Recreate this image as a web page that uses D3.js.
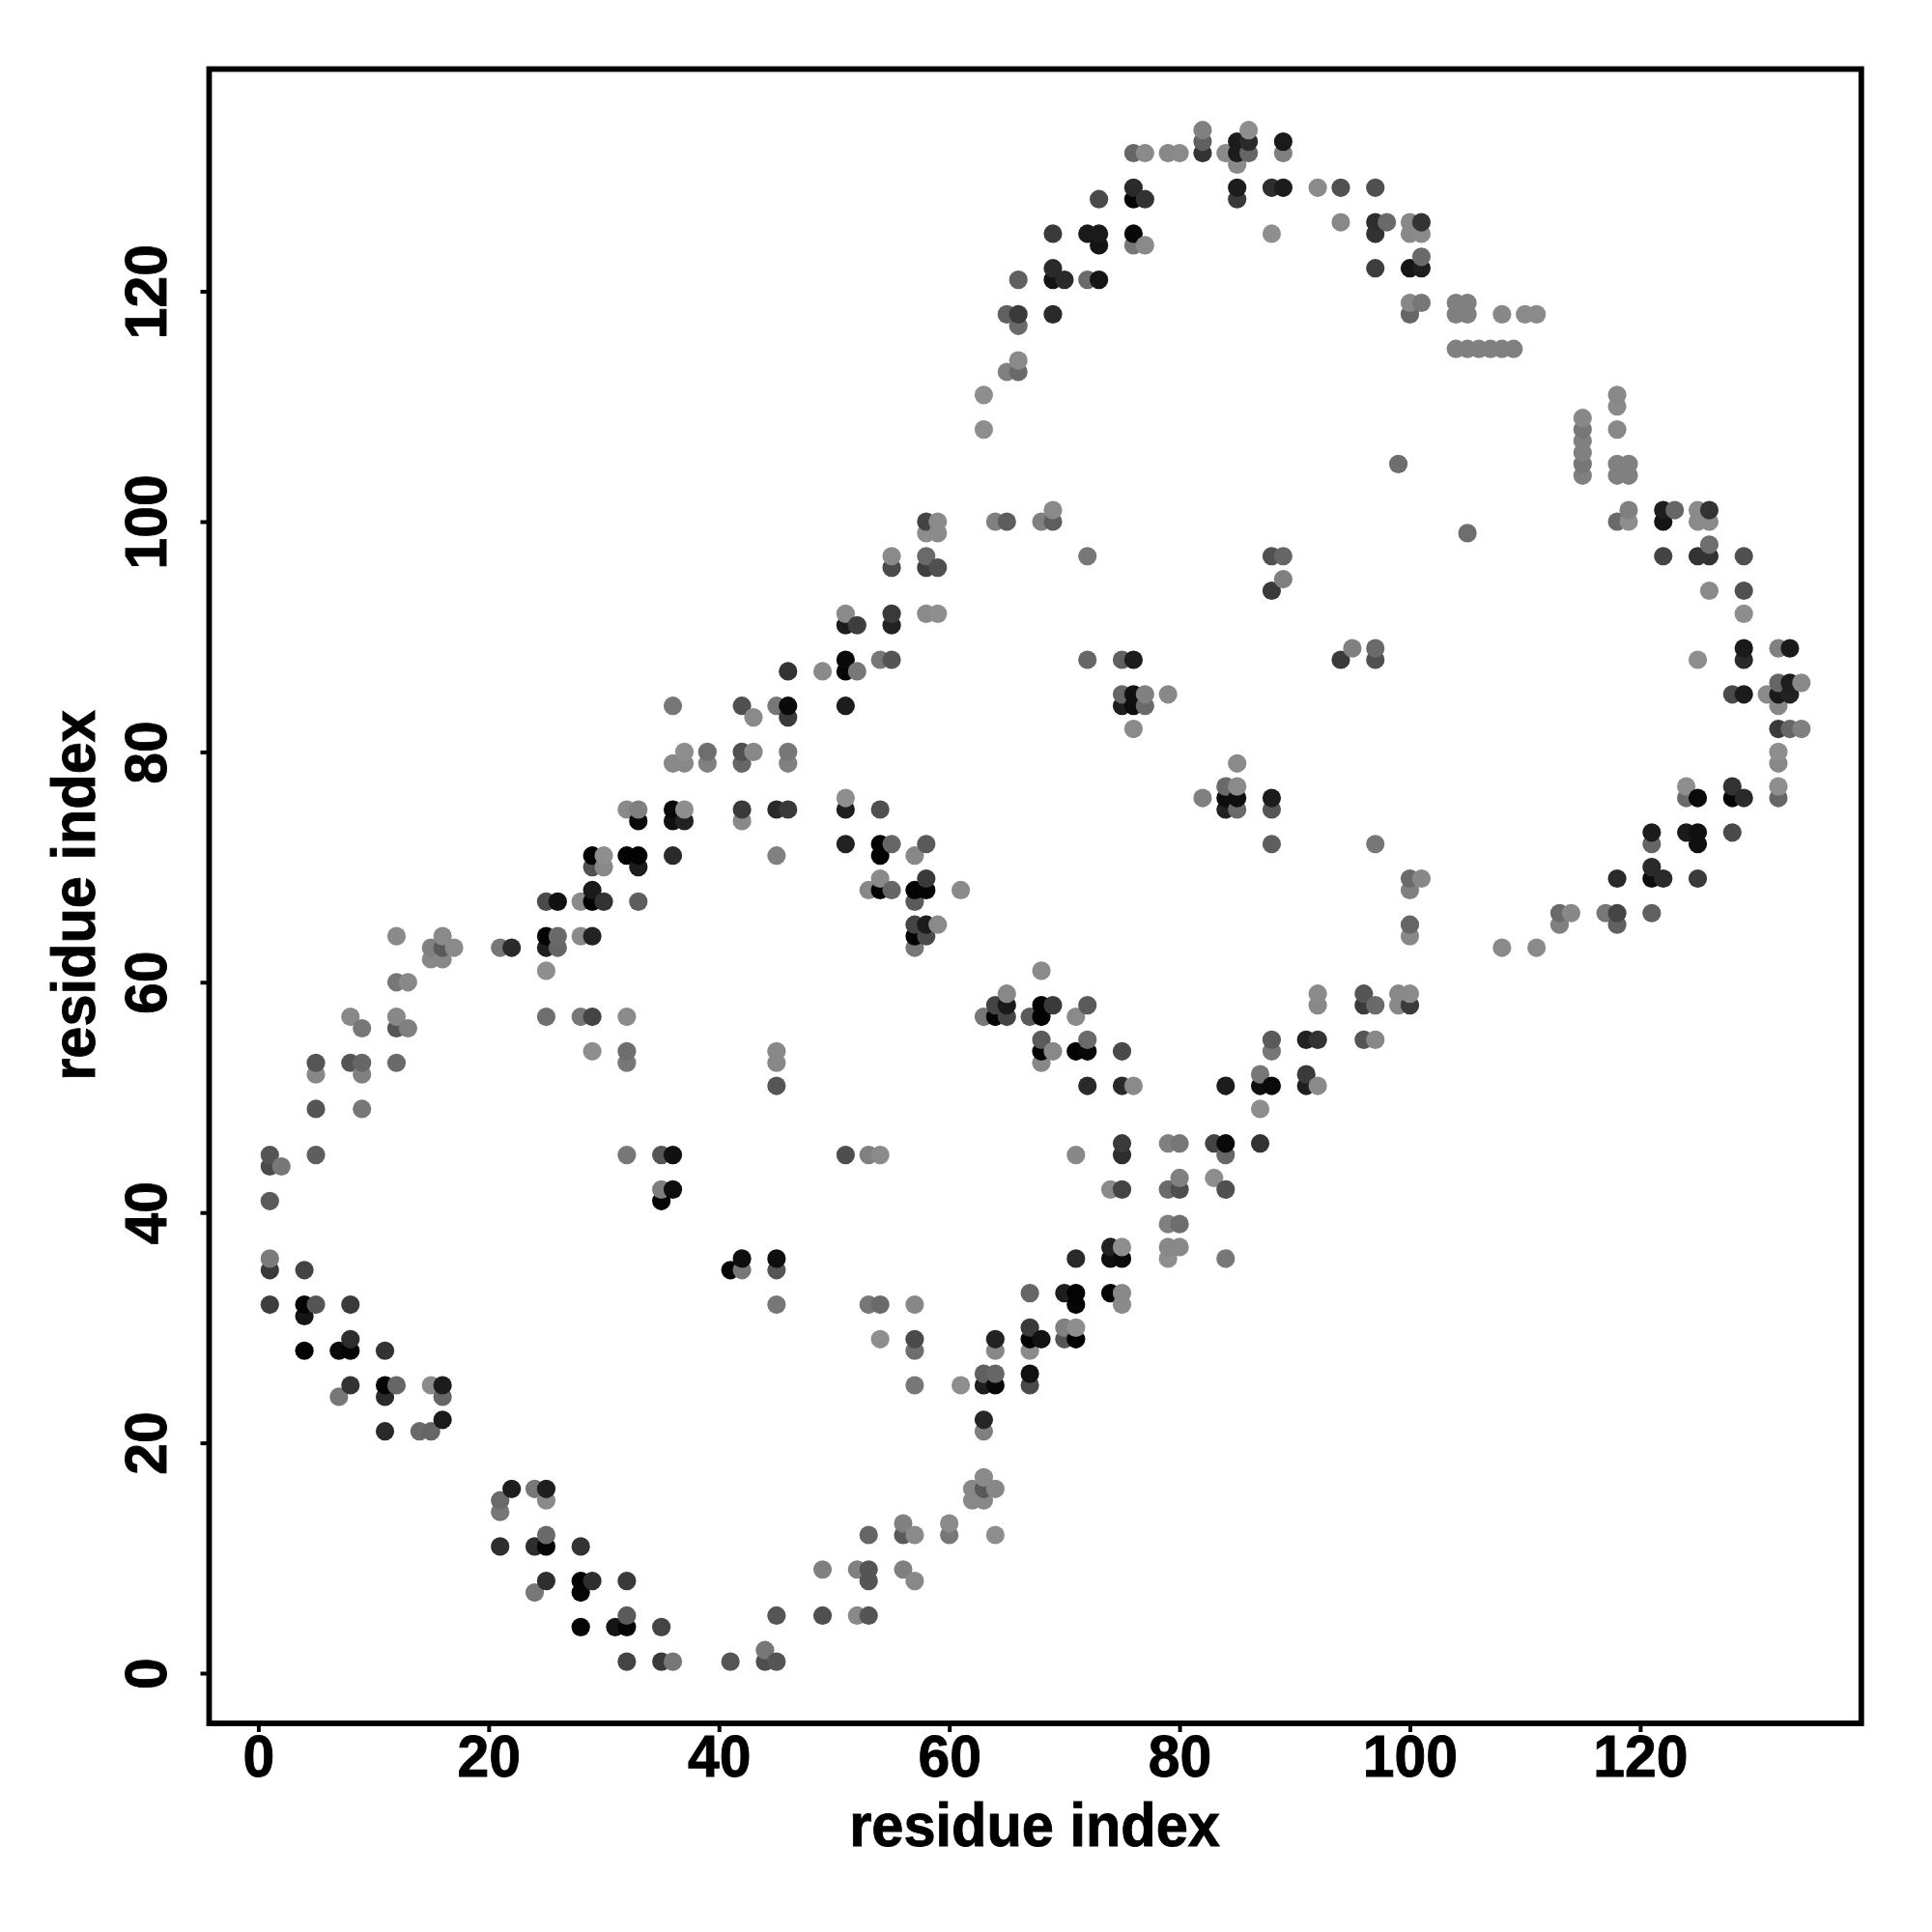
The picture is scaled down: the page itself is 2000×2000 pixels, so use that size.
<!DOCTYPE html>
<html><head><meta charset="utf-8"><title>Residue contact map</title>
<script src="https://d3js.org/d3.v7.min.js"></script>
<style>html,body{margin:0;padding:0;background:#fff}svg{display:block}text{font-family:"Liberation Sans",Arial,sans-serif;font-weight:700;fill:#000;stroke:#000;stroke-width:0.9px}</style>
</head><body><div id="chart"></div>
<script>
const xTicks = [0,20,40,60,80,100,120];
const yTicks = [0,20,40,60,80,100,120];
const xTitle = "residue index";
const yTitle = "residue index";
// one entry per row of the map: residue y, residue x values, grey level of each point
const rowY = [134,133,132,131,129,128,126,125,124,123,122,121,119,118,117,115,114,113,111,110,109,108,107,106,105,104,101,100,99,98,97,96,95,94,92,91,89,88,87,86,85,84,83,82,80,79,77,76,75,74,73,72,71,70,69,68,67,66,65,64,63,62,61,60,59,58,57,56,55,54,53,52,51,49,46,45,44,43,42,41,39,37,36,35,33,32,31,30,29,28,26,25,24,22,21,17,16,15,14,13,12,11,9,8,7,5,4,2,1];
const rowX = [
[82,86],[82,85,86,89],[76,77,79,80,82,84,85,86,89],[85],[76,85,88,89,92,94,97],[73,76,77,85],[94,97,98,100,101],[69,72,73,76,88,97,100,101],[73,76,77],[101],[69,97,100,101],[66,69,70,72,73],[100,101,104,105],[65,66,69,100,104,105,108,110,111],[66],[104,105,106,107,108,109],[66],[65,66],[63,118],[118],[115],[63,115,118],[115],[115],[99,115,118,119],[115,118,119],
[69,119,122,123,125,126],[58,59,64,65,68,69,118,119,122,125,126],[58,59,105],[126],[55,58,72,88,89,122,125,126,129],[55,58,59],[89],[88,126,129],[51,55,58,59,129],[51,52,55],[95,97,129,132,133],[51,54,55,72,75,76,94,97,125,129],[46,49,51,52],[132,133,134],[75,76,77,79,128,129,131,132,133],[36,42,45,46,51,75,76,77,132],[43,46],[76,132,133,134],[37,39,42,43,46,132],[36,37,39,42,46,85,132],[84,85,124,128,132],[51,82,84,85,88,124,125,128,129,132],[32,33,36,37,42,45,46,51,54,84,85,88],[33,36,37,42],[121,124,125,128],[51,54,55,58,88,97,121,125],[29,30,32,33,36,45,54,57],[29,30,33,121],[54,58,100,101,118,121,122,125],[29,53,54,55,57,58,61,100],[25,26,28,29,30,33,57],[113,114,117,118,121],[57,58,59,100,113,118],[12,16,25,26,28,29,57,58,100],[15,16,17,21,22,25,26,57,108,111],[15,16],[25,68],[12,13],
[65,92,96,99,100],[64,65,68,69,72,92,96,97,99,100],[8,12,25,28,29,32,63,64,65,67,68,71],[9,12,13],[68,72,88,91,92,96,97],[29,32,45,68,69,71,72,75,88],[5,8,9,12,32,45,68],[5,9,87,91],[45,72,75,76,84,87,88,91,92],[5,9,87],[75,79,80,83,84,87],[1,5,32,35,36,51,53,54,71,75,84],[1,2],[80,83],[35,36,74,75,79,80,84],[1,35],[79,80],[74,75,79,80],[1,42,45,71,74,75,79,84],[1,4,41,42,45],[67,70,71,74,75],[1,4,5,8,45,53,54,57,71,75],[4],[67,70,71],[8,54,57,64,67,68,70,71],[4,7,8,11,57,64,67],[63,64,67],[8,11,12,15,16,57,61,63,64,67],[7,11,16],[16,63],[11,14,15,63],[63],[22,24,25,62,63,64],[21,25,62,63],[21],[56,60],[25,53,56,57,60,64],[21,24,25,28],[49,52,53,56],[25,28,29,32,53,57],[24,28],[32,45,49,52,53],[28,31,32,35],[44],[32,35,36,41,44,45]
];
const rowGrey = [
[0x80,0x8e],[0x60,0x1c,0x2a,0x1a],[0x66,0x8a,0x88,0x8a,0x33,0x8a,0x1c,0x66,0x80],[0x8a],[0x2a,0x1c,0x2e,0x1c,0x8a,0x50,0x50],[0x4a,0x05,0x33,0x3a],[0x88,0x2e,0x6a,0x88,0x33],[0x3a,0x1a,0x1a,0x08,0x8e,0x33,0x88,0x8a],[0x15,0x77,0x8a],[0x6a],[0x2a,0x3e,0x15,0x1e],[0x60,0x15,0x2a,0x6a,0x15],[0x88,0x77,0x80,0x80],[0x60,0x3a,0x2a,0x66,0x80,0x80,0x88,0x8a,0x8a],[0x6a],[0x80,0x80,0x80,0x80,0x80,0x80],[0x8a],[0x80,0x6a],[0x8e,0x88],[0x8a],[0x88],[0x8e,0x77,0x88],[0x80],[0x80],[0x6e,0x77,0x80,0x80],[0x80,0x80,0x80],
[0x8a,0x80,0x1e,0x66,0x8a,0x33],[0x44,0x8a,0x80,0x5e,0x80,0x5e,0x6a,0x8e,0x15,0x8a,0x8a],[0x8e,0x8a,0x6e],[0x6e],[0x8a,0x6a,0x77,0x50,0x66,0x44,0x33,0x33,0x50],[0x4a,0x3e,0x50],[0x80],[0x3a,0x8a,0x50],[0x8a,0x3a,0x8a,0x8e,0x8e],[0x1c,0x3e,0x22],[0x80,0x6a,0x1a,0x80,0x1a],[0x0a,0x77,0x55,0x66,0x60,0x1c,0x3a,0x50,0x8e,0x2a],[0x33,0x8a,0x05,0x77],[0x66,0x1e,0x88],[0x66,0x11,0x80,0x88,0x4a,0x1c,0x8a,0x1a,0x22],[0x77,0x50,0x77,0x0a,0x1c,0x1e,0x0e,0x6a,0x88],[0x8a,0x3a],[0x8a,0x3a,0x66,0x80],[0x8e,0x6e,0x50,0x88,0x77,0x8e],[0x88,0x88,0x80,0x66,0x80,0x8a,0x88],[0x6a,0x8a,0x8e,0x33,0x8e],[0x8e,0x80,0x0e,0x0e,0x1c,0x6a,0x0a,0x05,0x2a,0x66],[0x8a,0x80,0x0a,0x8e,0x3a,0x2a,0x3a,0x1e,0x50,0x22,0x6a,0x55],[0x0a,0x11,0x22,0x88],[0x1c,0x1a,0x11,0x4a],[0x22,0x03,0x66,0x5a,0x5e,0x77,0x66,0x11],[0x03,0x8e,0x03,0x03,0x2a,0x80,0x03,0x88],[0x50,0x88,0x1c,0x2a],[0x8a,0x3a,0x6a,0x88,0x2a,0x0e,0x2a,0x3a],[0x1a,0x88,0x03,0x66,0x03,0x05,0x8a,0x80],[0x4a,0x11,0x8a,0x03,0x33,0x5e,0x5a],[0x6a,0x88,0x77,0x44,0x60],[0x44,0x1c,0x8a,0x66,0x80,0x60],[0x8a,0x8a,0x05,0x6a,0x8a,0x22,0x03,0x4a,0x88],[0x80,0x5a,0x8a,0x77,0x2a,0x1e,0x66,0x77,0x8a,0x8a],[0x88,0x88],[0x8e,0x8a],[0x77,0x88],
[0x88,0x8a,0x55,0x88,0x8a],[0x44,0x1a,0x03,0x3a,0x5a,0x88,0x3a,0x6a,0x88,0x3a],[0x88,0x88,0x6e,0x77,0x44,0x8a,0x77,0x05,0x44,0x5a,0x03,0x8a],[0x77,0x55,0x80],[0x5a,0x6a,0x5a,0x22,0x33,0x55,0x88],[0x8e,0x6e,0x88,0x03,0x88,0x03,0x08,0x4a,0x77],[0x55,0x55,0x66,0x6a,0x77,0x88,0x88],[0x88,0x80,0x77,0x3a],[0x55,0x2a,0x2a,0x8a,0x1c,0x0e,0x0a,0x1e,0x8a],[0x55,0x77,0x8e],[0x3a,0x80,0x77,0x44,0x0a,0x33],[0x55,0x5e,0x77,0x55,0x11,0x4e,0x80,0x8a,0x88,0x2e,0x66],[0x4a,0x77],[0x80,0x8e],[0x7e,0x0e,0x8a,0x44,0x6a,0x4e,0x50],[0x5a,0x05],[0x80,0x6e],[0x22,0x8e,0x88,0x88],[0x7a,0x0e,0x0e,0x2a,0x0e,0x0a,0x8e,0x77],[0x3a,0x44,0x05,0x77,0x55],[0x66,0x1e,0x03,0x05,0x88],[0x3e,0x05,0x55,0x3a,0x77,0x77,0x6a,0x88,0x05,0x8a],[0x15],[0x3a,0x80,0x8e],[0x2e,0x8e,0x4a,0x22,0x03,0x11,0x55,0x03],[0x03,0x0a,0x05,0x33,0x6e,0x88,0x8a],[0x60,0x66,0x11],[0x33,0x05,0x66,0x8a,0x1c,0x77,0x8e,0x1e,0x08,0x4a],[0x77,0x2a,0x66],[0x1a,0x26],[0x2a,0x6a,0x66,0x80],[0x8a],[0x1e,0x77,0x1e,0x88,0x5a,0x88],[0x6a,0x8a,0x88,0x88],[0x77],[0x80,0x8a],[0x6a,0x66,0x5a,0x8a,0x77,0x8e],[0x2e,0x2e,0x06,0x33],[0x80,0x80,0x55,0x80],[0x2e,0x03,0x2e,0x3a,0x55,0x88],[0x77,0x05],[0x5a,0x55,0x50,0x88,0x55],[0x05,0x15,0x05,0x44],[0x77],[0x44,0x3a,0x77,0x55,0x4e,0x55]
];

const svg = d3.select("#chart").append("svg").attr("width",2000).attr("height",2000);
const x = d3.scaleLinear().domain([-4.27,139.2]).range([216.5,1926.8]);
const y = d3.scaleLinear().domain([-4.36,139.3]).range([1784,71.5]);

// flatten rows and paint in x, then y order: later points sit on top
const points = rowY.flatMap((yv,i)=>rowX[i].map((xv,j)=>({x:xv,y:yv,g:rowGrey[i][j]})))
  .sort((a,b)=>d3.ascending(a.x,b.x)||d3.ascending(a.y,b.y));

svg.append("g").selectAll("circle").data(points).join("circle")
  .attr("cx",d=>x(d.x)).attr("cy",d=>y(d.y)).attr("r",9.6)
  .attr("fill",d=>d3.rgb(d.g,d.g,d.g).formatHex());

svg.append("rect")
  .attr("x",x.range()[0]).attr("y",y.range()[1])
  .attr("width",x.range()[1]-x.range()[0]).attr("height",y.range()[0]-y.range()[1])
  .attr("fill","none").attr("stroke","#000").attr("stroke-width",5.8);

const gx = svg.append("g").attr("transform",`translate(0,${y.range()[0]})`)
  .call(d3.axisBottom(x).tickValues(xTicks).tickFormat(d3.format("d")).tickSize(9).tickPadding(0));
const gy = svg.append("g").attr("transform",`translate(${x.range()[0]},0)`)
  .call(d3.axisLeft(y).tickValues(yTicks).tickFormat(d3.format("d")).tickSize(9).tickPadding(0));
[gx,gy].forEach(g=>{
  g.select(".domain").remove();
  g.selectAll(".tick line").attr("stroke","#000").attr("stroke-width",4);
  g.selectAll("text").attr("font-size",62).attr("font-family",'"Liberation Sans",Arial,sans-serif').attr("font-weight",700).attr("fill","#000").attr("dy",null);
});
gx.selectAll(".tick text").attr("text-anchor","middle").attr("y",0)
  .attr("transform",`translate(0,55) scale(0.95,1)`);
gy.selectAll(".tick text").attr("text-anchor","middle").attr("x",0)
  .attr("transform",`translate(-44.5,0) rotate(-90) scale(0.95,1)`);

svg.append("text").attr("text-anchor","middle").attr("font-size",62)
  .attr("transform",`translate(1071,1911) scale(0.96,1)`).text(xTitle);
svg.append("text").attr("text-anchor","middle").attr("font-size",62)
  .attr("transform",`translate(98,927) rotate(-90) scale(0.96,1)`).text(yTitle);
</script></body></html>
